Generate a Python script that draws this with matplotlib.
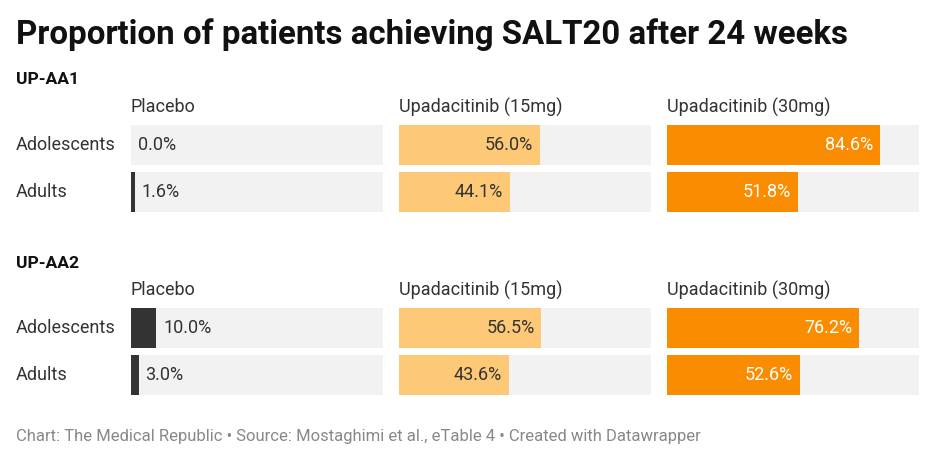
import numpy as np
import matplotlib.pyplot as plt

plt.rcParams['font.family'] = ['Roboto', 'DejaVu Sans']

# data
studies = ['UP-AA1', 'UP-AA2']
groups = ['Adolescents', 'Adults']
arms = ['Placebo', 'Upadacitinib (15mg)', 'Upadacitinib (30mg)']
values = {
    'UP-AA1': {'Placebo': [0.0, 1.6],
               'Upadacitinib (15mg)': [56.0, 44.1],
               'Upadacitinib (30mg)': [84.6, 51.8]},
    'UP-AA2': {'Placebo': [10.0, 3.0],
               'Upadacitinib (15mg)': [56.5, 43.6],
               'Upadacitinib (30mg)': [76.2, 52.6]},
}
arm_colors = ['#333333', '#fec976', '#f98c00']
label_colors = ['#333333', '#333333', '#ffffff']

W, H = 936, 462
fig = plt.figure(figsize=(W / 100, H / 100), dpi=100)

def rect(x0, y0, x1, y1):
    return [x0 / W, 1 - y1 / H, (x1 - x0) / W, (y1 - y0) / H]

fig.text(16 / W, 1 - 35 / H, 'Proportion of patients achieving SALT20 after 24 weeks',
         fontsize=23.8, fontweight='bold', color='#111111', va='center', ha='left')

bh = 40 / 47
study_tops = [125, 308]
col_left = [131, 399, 667]
col_w = 252
fs = 13

for s, study in enumerate(studies):
    top = study_tops[s]
    fig.text(16 / W, 1 - (top - 45) / H, study, fontsize=12.6, fontweight='bold',
             color='#111111', va='center', ha='left')
    for g, grp in enumerate(groups):
        fig.text(16 / W, 1 - (top + 20 + 47 * g) / H, grp, fontsize=fs,
                 color='#333333', va='center', ha='left')
    for c, arm in enumerate(arms):
        x0 = col_left[c]
        fig.text(x0 / W, 1 - (top - 18) / H, arm, fontsize=fs,
                 color='#333333', va='center', ha='left')
        ax = fig.add_axes(rect(x0, top, x0 + col_w, top + 87))
        y = np.arange(len(groups))
        v = values[study][arm]
        ax.barh(y, [100] * len(y), height=bh, color='#f2f2f2')
        ax.barh(y, v, height=bh, color=arm_colors[c])
        for yi, vi in zip(y, v):
            if c == 0:
                ax.annotate(f'{vi:.1f}%', (vi, yi), xytext=(5, 0), textcoords='offset points',
                            ha='left', va='center', fontsize=fs, color=label_colors[c])
            else:
                ax.annotate(f'{vi:.1f}%', (vi, yi), xytext=(-5, 0), textcoords='offset points',
                            ha='right', va='center', fontsize=fs, color=label_colors[c])
        ax.set_xlim(0, 100)
        ax.set_ylim(1 + bh / 2, -bh / 2)
        ax.axis('off')

fig.text(16 / W, 1 - 436 / H,
         'Chart: The Medical Republic \u2022 Source: Mostaghimi et al., eTable 4 \u2022 Created with Datawrapper',
         fontsize=12, color='#888888', va='center', ha='left')

fig.savefig('out.png', dpi=100, facecolor='white')
